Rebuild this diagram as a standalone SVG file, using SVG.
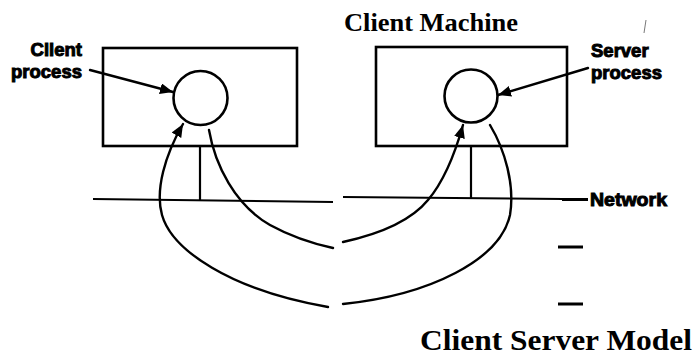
<svg xmlns="http://www.w3.org/2000/svg" width="698" height="358" viewBox="0 0 698 358">
  <style>
    .box { fill: none; stroke: #000; stroke-width: 2.6; }
    .proc { fill: #fff; stroke: #000; stroke-width: 2.6; }
    .wire { fill: none; stroke: #000; stroke-width: 2.2; stroke-linecap: round; }
    .net { fill: none; stroke: #000; stroke-width: 2; }
    .tick { fill: none; stroke: #000; stroke-width: 3; }
    .flow { fill: none; stroke: #000; stroke-width: 2.4; stroke-linecap: round; }
    .lbl { font-family: "Liberation Sans", Arial, sans-serif; font-weight: bold; font-size: 18.5px; fill: #000; stroke: #000; stroke-width: 1; }
    .title { font-family: "Liberation Serif", "Times New Roman", serif; font-weight: bold; fill: #000; }
  </style>
  <defs>
    <marker id="head" markerUnits="userSpaceOnUse" markerWidth="15" markerHeight="11" refX="13" refY="5.5" orient="auto">
      <path d="M0,0 L13,5.5 L0,11 Z" fill="#000"/>
    </marker>
  </defs>

  <rect width="698" height="358" fill="#fff"/>

  <!-- titles -->
  <text class="title" x="344" y="31" font-size="25" textLength="174" lengthAdjust="spacingAndGlyphs">Client Machine</text>
  <text class="title" x="420" y="350" font-size="29" textLength="272" lengthAdjust="spacingAndGlyphs">Client Server Model</text>

  <!-- client machine -->
  <g id="client-machine">
    <rect class="box" x="103" y="48" width="194" height="98"/>
    <line class="wire" x1="200" y1="146" x2="200" y2="200"/>
  </g>
  <g id="client-process">
    <circle class="proc" cx="200.5" cy="98" r="27"/>
    <text class="lbl" x="82" y="56" text-anchor="end">Client</text>
    <text class="lbl" x="82" y="78" text-anchor="end">process</text>
  </g>

  <!-- server machine -->
  <g id="server-machine">
    <rect class="box" x="376" y="47" width="191" height="99"/>
    <line class="wire" x1="471" y1="146" x2="471" y2="198"/>
  </g>
  <g id="server-process">
    <circle class="proc" cx="471" cy="96" r="26.5"/>
    <text class="lbl" x="591" y="57">Server</text>
    <text class="lbl" x="591" y="79">process</text>
  </g>

  <!-- network -->
  <g id="network">
    <line class="net" x1="93" y1="199" x2="333" y2="202"/>
    <line class="net" x1="343" y1="197" x2="563" y2="199"/>
    <line class="tick" x1="562" y1="199.5" x2="588" y2="199.5"/>
    <line class="tick" x1="558" y1="247" x2="583" y2="247"/>
    <line class="tick" x1="558" y1="304" x2="583" y2="304"/>
    <text class="lbl" x="590" y="206" textLength="77" lengthAdjust="spacingAndGlyphs">Network</text>
  </g>

  <!-- connectors -->
  <g id="connectors">
    <!-- label pointers -->
    <line class="flow" x1="90" y1="70" x2="173" y2="92" marker-end="url(#head)"/>
    <line class="flow" x1="588" y1="68" x2="498" y2="95" marker-end="url(#head)"/>

    <!-- request: client to server -->
    <path class="flow" d="M209,130 C215,165 235,205 270,225 C290,236 310,243 333,248"/>
    <path class="flow" d="M343,242 C375,235 410,222 428,200 C445,180 456,150 463,125" marker-end="url(#head)"/>

    <!-- reply: server to client -->
    <path class="flow" d="M490,125 C505,150 515,185 510,215 C500,260 430,295 343,304"/>
    <path class="flow" d="M328,307 C230,290 172,250 162,215 C155,190 165,155 183,124" marker-end="url(#head)"/>
  </g>

  <!-- small pen mark near the title -->
  <line x1="646" y1="20" x2="644" y2="33" stroke="#555" stroke-width="0.8"/>
</svg>
